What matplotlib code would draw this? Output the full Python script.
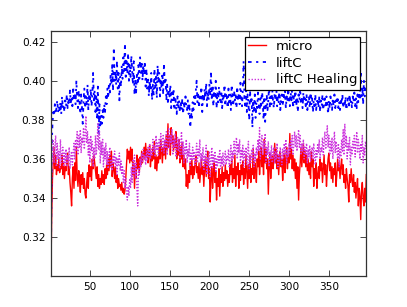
import numpy as np
import matplotlib
matplotlib.use("Agg")
import matplotlib.pyplot as plt

# values in thousandths
micro_k = [
300, 330, 350, 358, 366, 355, 362, 352, 357, 354, 360, 353, 356, 355, 362, 352, 358, 350, 356, 354,
359, 363, 352, 356, 348, 343, 336, 350, 356, 345, 358, 349, 366, 352, 346, 354, 349, 343, 352, 347,
353, 345, 350, 342, 340, 348, 353, 345, 357, 351, 356, 349, 360, 355, 362, 358, 354, 350, 356, 346,
352, 345, 350, 347, 354, 348, 352, 347, 355, 350, 357, 352, 360, 354, 362, 356, 364, 351, 358, 355,
350, 356, 348, 352, 345, 350, 346, 347, 344, 348, 343, 345, 342, 344, 350, 358, 365, 360, 364, 358,
366, 359, 365, 352, 358, 345, 356, 350, 362, 355, 360, 353, 361, 357, 364, 358, 362, 366, 360, 368,
361, 365, 358, 363, 367, 356, 362, 359, 366, 360, 369, 355, 362, 354, 361, 358, 366, 360, 370, 364,
358, 366, 362, 369, 360, 372, 365, 378, 366, 372, 362, 376, 368, 372, 364, 370, 366, 374, 360, 368,
362, 370, 358, 366, 360, 368, 356, 362, 355, 360, 346, 352, 345, 354, 348, 358, 352, 360, 350, 356,
352, 358, 362, 353, 356, 350, 358, 348, 354, 360, 352, 356, 346, 355, 360, 351, 358, 364, 350, 355,
338, 350, 356, 345, 352, 358, 348, 354, 339, 350, 346, 355, 341, 352, 348, 356, 346, 353, 349, 357,
350, 354, 346, 352, 348, 357, 352, 360, 348, 355, 350, 362, 346, 356, 352, 358, 345, 354, 349, 357,
352, 359, 347, 355, 350, 362, 353, 345, 357, 350, 362, 348, 355, 352, 365, 350, 358, 354, 348, 360,
356, 364, 352, 360, 366, 356, 362, 352, 370, 358, 365, 355, 360, 342, 356, 363, 350, 358, 362, 355,
360, 368, 358, 365, 355, 362, 352, 360, 364, 356, 360, 349, 357, 363, 353, 360, 366, 355, 362, 358,
373, 360, 365, 355, 362, 354, 360, 350, 358, 345, 356, 339, 352, 358, 366, 356, 362, 368, 358, 364,
356, 362, 354, 360, 352, 358, 350, 364, 356, 360, 346, 355, 350, 358, 345, 352, 356, 350, 360, 354,
358, 348, 355, 362, 352, 357, 346, 354, 360, 363, 354, 358, 350, 356, 348, 355, 352, 358, 346, 352,
360, 354, 358, 350, 356, 360, 352, 357, 348, 352, 345, 355, 350, 346, 338, 352, 348, 355, 349, 346,
352, 343, 348, 340, 346, 350, 336, 345, 341, 329, 344, 348, 340, 336, 345, 338, 352,
]

liftc_k = [
300, 365, 378, 384, 382, 388, 383, 386, 390, 384, 387, 385, 389, 383, 392, 386, 388, 384, 390, 387,
393, 386, 391, 388, 395, 389, 392, 387, 397, 390, 394, 388, 400, 391, 386, 395, 389, 383, 393, 387,
378, 390, 396, 386, 392, 388, 398, 385, 393, 389, 396, 387, 392, 404, 390, 395, 384, 392, 380, 397,
373, 388, 376, 382, 378, 385, 381, 388, 384, 392, 388, 396, 391, 399, 394, 403, 398, 408, 395, 417,
400, 405, 398, 410, 396, 404, 390, 402, 397, 408, 401, 412, 405, 419, 402, 410, 404, 414, 400, 408,
402, 413, 405, 398, 410, 393, 400, 394, 403, 398, 408, 401, 412, 404, 410, 400, 408, 403, 410, 397,
406, 396, 402, 392, 400, 395, 404, 390, 398, 393, 406, 396, 402, 391, 408, 399, 404, 392, 400, 396,
404, 393, 409, 398, 402, 390, 398, 388, 395, 392, 398, 386, 394, 390, 396, 385, 392, 388, 383, 392,
386, 390, 384, 389, 385, 391, 383, 388, 386, 392, 387, 385, 390, 383, 388, 376, 384, 380, 389, 385,
392, 388, 395, 400, 389, 394, 386, 392, 390, 397, 384, 393, 389, 396, 391, 399, 387, 394, 390, 398,
393, 405, 390, 398, 387, 395, 391, 400, 386, 394, 389, 397, 392, 388, 395, 386, 393, 390, 398, 387,
394, 391, 386, 396, 389, 393, 385, 398, 391, 387, 395, 390, 393, 386, 397, 390, 394, 388, 399, 392,
387, 396, 410, 391, 386, 397, 384, 393, 389, 380, 395, 388, 392, 376, 390, 385, 393, 381, 389, 386,
394, 388, 383, 391, 386, 396, 389, 380, 392, 379, 387, 393, 385, 390, 398, 386, 392, 388, 395, 389,
386, 394, 390, 397, 387, 392, 389, 396, 385, 391, 393, 387, 398, 390, 395, 386, 392, 389, 396, 391,
387, 394, 390, 397, 386, 392, 389, 395, 387, 391, 384, 393, 390, 396, 388, 392, 386, 394, 389, 391,
387, 393, 385, 390, 392, 386, 394, 388, 391, 384, 390, 387, 393, 385, 389, 391, 386, 392, 384, 390,
387, 393, 385, 389, 391, 386, 392, 388, 383, 390, 386, 392, 389, 385, 391, 387, 393, 386, 390, 388,
392, 386, 389, 385, 391, 388, 393, 386, 390, 387, 392, 385, 389, 391, 386, 393, 388, 390, 386, 392,
389, 394, 387, 391, 386, 393, 389, 396, 390, 405, 392, 397, 388, 400, 392, 396, 394,
]

healing_k = [
300, 352, 362, 370, 358, 366, 372, 356, 368, 360, 364, 355, 370, 358, 362, 366, 356, 363, 358, 365,
356, 362, 359, 366, 355, 361, 364, 357, 363, 368, 360, 370, 364, 374, 362, 372, 366, 375, 363, 371,
368, 376, 365, 372, 382, 368, 374, 362, 370, 358, 372, 364, 369, 356, 366, 360, 372, 362, 368, 378,
365, 374, 358, 369, 362, 370, 356, 366, 360, 368, 357, 364, 355, 362, 366, 356, 360, 354, 362, 358,
364, 356, 361, 352, 360, 357, 363, 354, 359, 352, 356, 348, 354, 345, 350, 342, 339, 346, 341, 350,
345, 356, 348, 360, 352, 362, 350, 358, 345, 336, 355, 352, 360, 356, 363, 358, 365, 360, 362, 357,
364, 359, 366, 361, 368, 360, 365, 362, 370, 364, 367, 361, 372, 365, 368, 362, 370, 366, 373, 364,
368, 372, 363, 370, 366, 374, 362, 370, 376, 365, 372, 368, 375, 362, 370, 366, 373, 361, 368, 371,
364, 370, 360, 367, 374, 362, 369, 358, 366, 362, 370, 358, 365, 361, 368, 356, 363, 359, 366, 360,
364, 357, 362, 368, 358, 365, 361, 370, 356, 363, 359, 366, 354, 362, 358, 367, 352, 361, 356, 364,
351, 360, 366, 355, 362, 358, 364, 353, 360, 356, 362, 358, 365, 355, 361, 357, 363, 356, 360, 364,
357, 362, 359, 365, 356, 361, 367, 358, 364, 360, 369, 362, 366, 371, 360, 368, 363, 370, 358, 365,
361, 367, 356, 364, 360, 366, 357, 363, 369, 355, 362, 358, 365, 360, 367, 356, 363, 359, 366, 362,
370, 364, 376, 360, 368, 372, 362, 369, 365, 373, 358, 366, 362, 369, 356, 364, 360, 367, 358, 363,
366, 358, 364, 360, 368, 356, 362, 359, 366, 361, 357, 365, 360, 368, 362, 370, 358, 365, 361, 368,
363, 370, 365, 372, 362, 368, 374, 366, 372, 364, 370, 375, 366, 372, 362, 368, 364, 370, 360, 366,
362, 368, 358, 365, 361, 367, 359, 364, 366, 360, 368, 362, 357, 365, 361, 368, 363, 370, 360, 366,
364, 371, 362, 368, 374, 365, 370, 377, 366, 372, 362, 369, 364, 371, 360, 367, 374, 363, 369, 365,
360, 368, 356, 365, 361, 370, 364, 375, 362, 378, 366, 372, 360, 368, 364, 371, 357, 366, 362, 369,
365, 372, 361, 368, 374, 363, 370, 366, 360, 368, 364, 372, 358, 366, 362, 369, 365,
]

series_labels = ["micro", "liftC", "liftC Healing"]
yticks = [0.32, 0.34, 0.36, 0.38, 0.40, 0.42]
xticks = [50, 100, 150, 200, 250, 300, 350]

micro = np.array(micro_k) / 1000.0
liftc = np.array(liftc_k) / 1000.0
healing = np.array(healing_k) / 1000.0

plt.rcParams['font.family'] = ['DejaVu Sans']

fig = plt.figure(figsize=(4.07, 3.07), dpi=100, facecolor='white')
ax = fig.add_axes([0.125, 0.1, 0.775, 0.8])

ax.plot(np.arange(1, len(micro) + 1), micro, color='#ff0000', linestyle='-', linewidth=1.0, label=series_labels[0])
ax.plot(np.arange(1, len(liftc) + 1), liftc, color='#0000ff', linestyle=(0, (2, 2.5, 1.2, 2.5)), linewidth=1.3, label=series_labels[1])
ax.plot(np.arange(1, len(healing) + 1), healing, color='#cc33dd', linestyle=(0, (1, 1.2)), linewidth=1.0, label=series_labels[2])

ax.set_xlim(1, 397)
ax.set_ylim(0.30, 0.4256)
ax.set_xticks(xticks)
ax.set_yticks(yticks)
ax.set_yticklabels(["%.2f" % t for t in yticks])
ax.tick_params(direction='in', length=4, width=0.5, top=True, right=True, labelsize=7.6, pad=4)
for s in ax.spines.values():
    s.set_linewidth(0.9)
    s.set_color('#333333')

leg = ax.legend(loc='upper right', fontsize=9.5, fancybox=False, framealpha=1.0,
                edgecolor='black', handlelength=1.4, handletextpad=0.7, borderpad=0.25,
                labelspacing=0.28, borderaxespad=0.45)
leg.get_frame().set_linewidth(0.9)

fig.savefig('out.png', dpi=100, facecolor='white')
